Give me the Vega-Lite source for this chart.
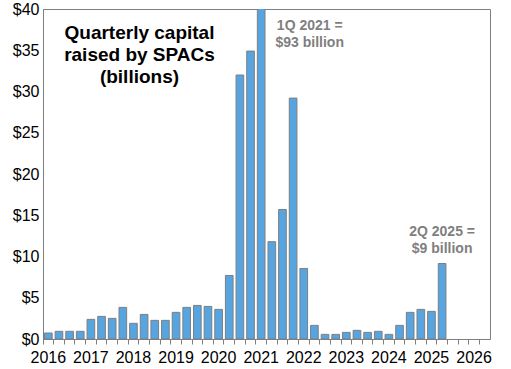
{
  "$schema": "https://vega.github.io/schema/vega-lite/v6.json",
  "width": 447,
  "height": 330,
  "autosize": {"type": "none"},
  "padding": {"left": 43, "top": 9, "right": 21, "bottom": 30},
  "config": {
    "view": {"stroke": "#7F7F7F", "strokeWidth": 1},
    "font": "Liberation Sans",
    "axis": {"labelFont": "Liberation Sans", "labelFontSize": 16, "labelColor": "#000000", "domainColor": "#7F7F7F", "tickColor": "#7F7F7F", "grid": false}
  },
  "layer": [
    {
      "data": {"values": [
        {"quarter": "2016 Q1", "value": 0.73}, {"quarter": "2016 Q2", "value": 0.93}, {"quarter": "2016 Q3", "value": 0.93}, {"quarter": "2016 Q4", "value": 0.93},
        {"quarter": "2017 Q1", "value": 2.38}, {"quarter": "2017 Q2", "value": 2.74}, {"quarter": "2017 Q3", "value": 2.5}, {"quarter": "2017 Q4", "value": 3.83},
        {"quarter": "2018 Q1", "value": 1.9}, {"quarter": "2018 Q2", "value": 2.98}, {"quarter": "2018 Q3", "value": 2.26}, {"quarter": "2018 Q4", "value": 2.26},
        {"quarter": "2019 Q1", "value": 3.23}, {"quarter": "2019 Q2", "value": 3.83}, {"quarter": "2019 Q3", "value": 4.07}, {"quarter": "2019 Q4", "value": 3.95},
        {"quarter": "2020 Q1", "value": 3.59}, {"quarter": "2020 Q2", "value": 7.7}, {"quarter": "2020 Q3", "value": 32.0}, {"quarter": "2020 Q4", "value": 34.9},
        {"quarter": "2021 Q1", "value": 93}, {"quarter": "2021 Q2", "value": 11.8}, {"quarter": "2021 Q3", "value": 15.7}, {"quarter": "2021 Q4", "value": 29.2},
        {"quarter": "2022 Q1", "value": 8.55}, {"quarter": "2022 Q2", "value": 1.65}, {"quarter": "2022 Q3", "value": 0.56}, {"quarter": "2022 Q4", "value": 0.56},
        {"quarter": "2023 Q1", "value": 0.8}, {"quarter": "2023 Q2", "value": 1.05}, {"quarter": "2023 Q3", "value": 0.8}, {"quarter": "2023 Q4", "value": 0.93},
        {"quarter": "2024 Q1", "value": 0.56}, {"quarter": "2024 Q2", "value": 1.65}, {"quarter": "2024 Q3", "value": 3.23}, {"quarter": "2024 Q4", "value": 3.59},
        {"quarter": "2025 Q1", "value": 3.35}, {"quarter": "2025 Q2", "value": 9.15}
      ]},
      "mark": {"type": "bar", "fill": "#56A5E1", "stroke": "#7F7F7F", "strokeWidth": 1, "clip": true, "width": {"band": 0.72}},
      "encoding": {
        "x": {
          "field": "quarter", "type": "ordinal", "title": null,
          "scale": {
            "domain": ["2016 Q1","2016 Q2","2016 Q3","2016 Q4","2017 Q1","2017 Q2","2017 Q3","2017 Q4","2018 Q1","2018 Q2","2018 Q3","2018 Q4","2019 Q1","2019 Q2","2019 Q3","2019 Q4","2020 Q1","2020 Q2","2020 Q3","2020 Q4","2021 Q1","2021 Q2","2021 Q3","2021 Q4","2022 Q1","2022 Q2","2022 Q3","2022 Q4","2023 Q1","2023 Q2","2023 Q3","2023 Q4","2024 Q1","2024 Q2","2024 Q3","2024 Q4","2025 Q1","2025 Q2","2025 Q3","2025 Q4","2026 Q1","2026 Q2"],
            "paddingInner": 0, "paddingOuter": 0
          },
          "axis": {
            "bandPosition": 0, "ticks": true, "tickSize": 5, "labelAngle": 0, "labelPadding": 5, "labelOffset": 0, "labelOverlap": false,
            "labelExpr": "slice(datum.value, -2) == 'Q1' ? slice(datum.value, 0, 4) : ''"
          }
        },
        "y": {
          "field": "value", "type": "quantitative", "title": null,
          "scale": {"domain": [0, 40], "nice": false},
          "axis": {"values": [0, 5, 10, 15, 20, 25, 30, 35, 40], "ticks": false, "labelPadding": 4, "labelExpr": "'$' + datum.value"}
        }
      }
    },
    {
      "mark": {"type": "rule", "color": "#7F7F7F", "strokeWidth": 1},
      "encoding": {
        "x": {"datum": "2026 Q2", "type": "ordinal", "bandPosition": 1},
        "y": {"datum": 0, "type": "quantitative"},
        "y2": {"datum": -0.6}
      }
    },
    {
      "data": {"values": [{"quarter": "2018 Q1", "value": 37.1, "label": "Quarterly capital\nraised by SPACs\n(billions)"}]},
      "mark": {"type": "text", "font": "Liberation Sans", "fontSize": 19, "fontWeight": "bold", "color": "#000000", "lineBreak": "\n", "lineHeight": 22, "align": "center", "baseline": "middle", "dx": 6},
      "encoding": {"x": {"field": "quarter", "type": "ordinal"}, "y": {"field": "value", "type": "quantitative"}, "text": {"field": "label"}}
    },
    {
      "data": {"values": [{"quarter": "2022 Q1", "value": 38.0, "label": "1Q 2021 =\n$93 billion"}]},
      "mark": {"type": "text", "font": "Liberation Sans", "fontSize": 14, "fontWeight": "bold", "color": "#7F7F7F", "lineBreak": "\n", "lineHeight": 17, "align": "center", "baseline": "middle", "dx": 6},
      "encoding": {"x": {"field": "quarter", "type": "ordinal"}, "y": {"field": "value", "type": "quantitative"}, "text": {"field": "label"}}
    },
    {
      "data": {"values": [{"quarter": "2025 Q2", "value": 12.95, "label": "2Q 2025 =\n$9 billion"}]},
      "mark": {"type": "text", "font": "Liberation Sans", "fontSize": 14, "fontWeight": "bold", "color": "#7F7F7F", "lineBreak": "\n", "lineHeight": 17, "align": "center", "baseline": "middle"},
      "encoding": {"x": {"field": "quarter", "type": "ordinal"}, "y": {"field": "value", "type": "quantitative"}, "text": {"field": "label"}}
    }
  ]
}
